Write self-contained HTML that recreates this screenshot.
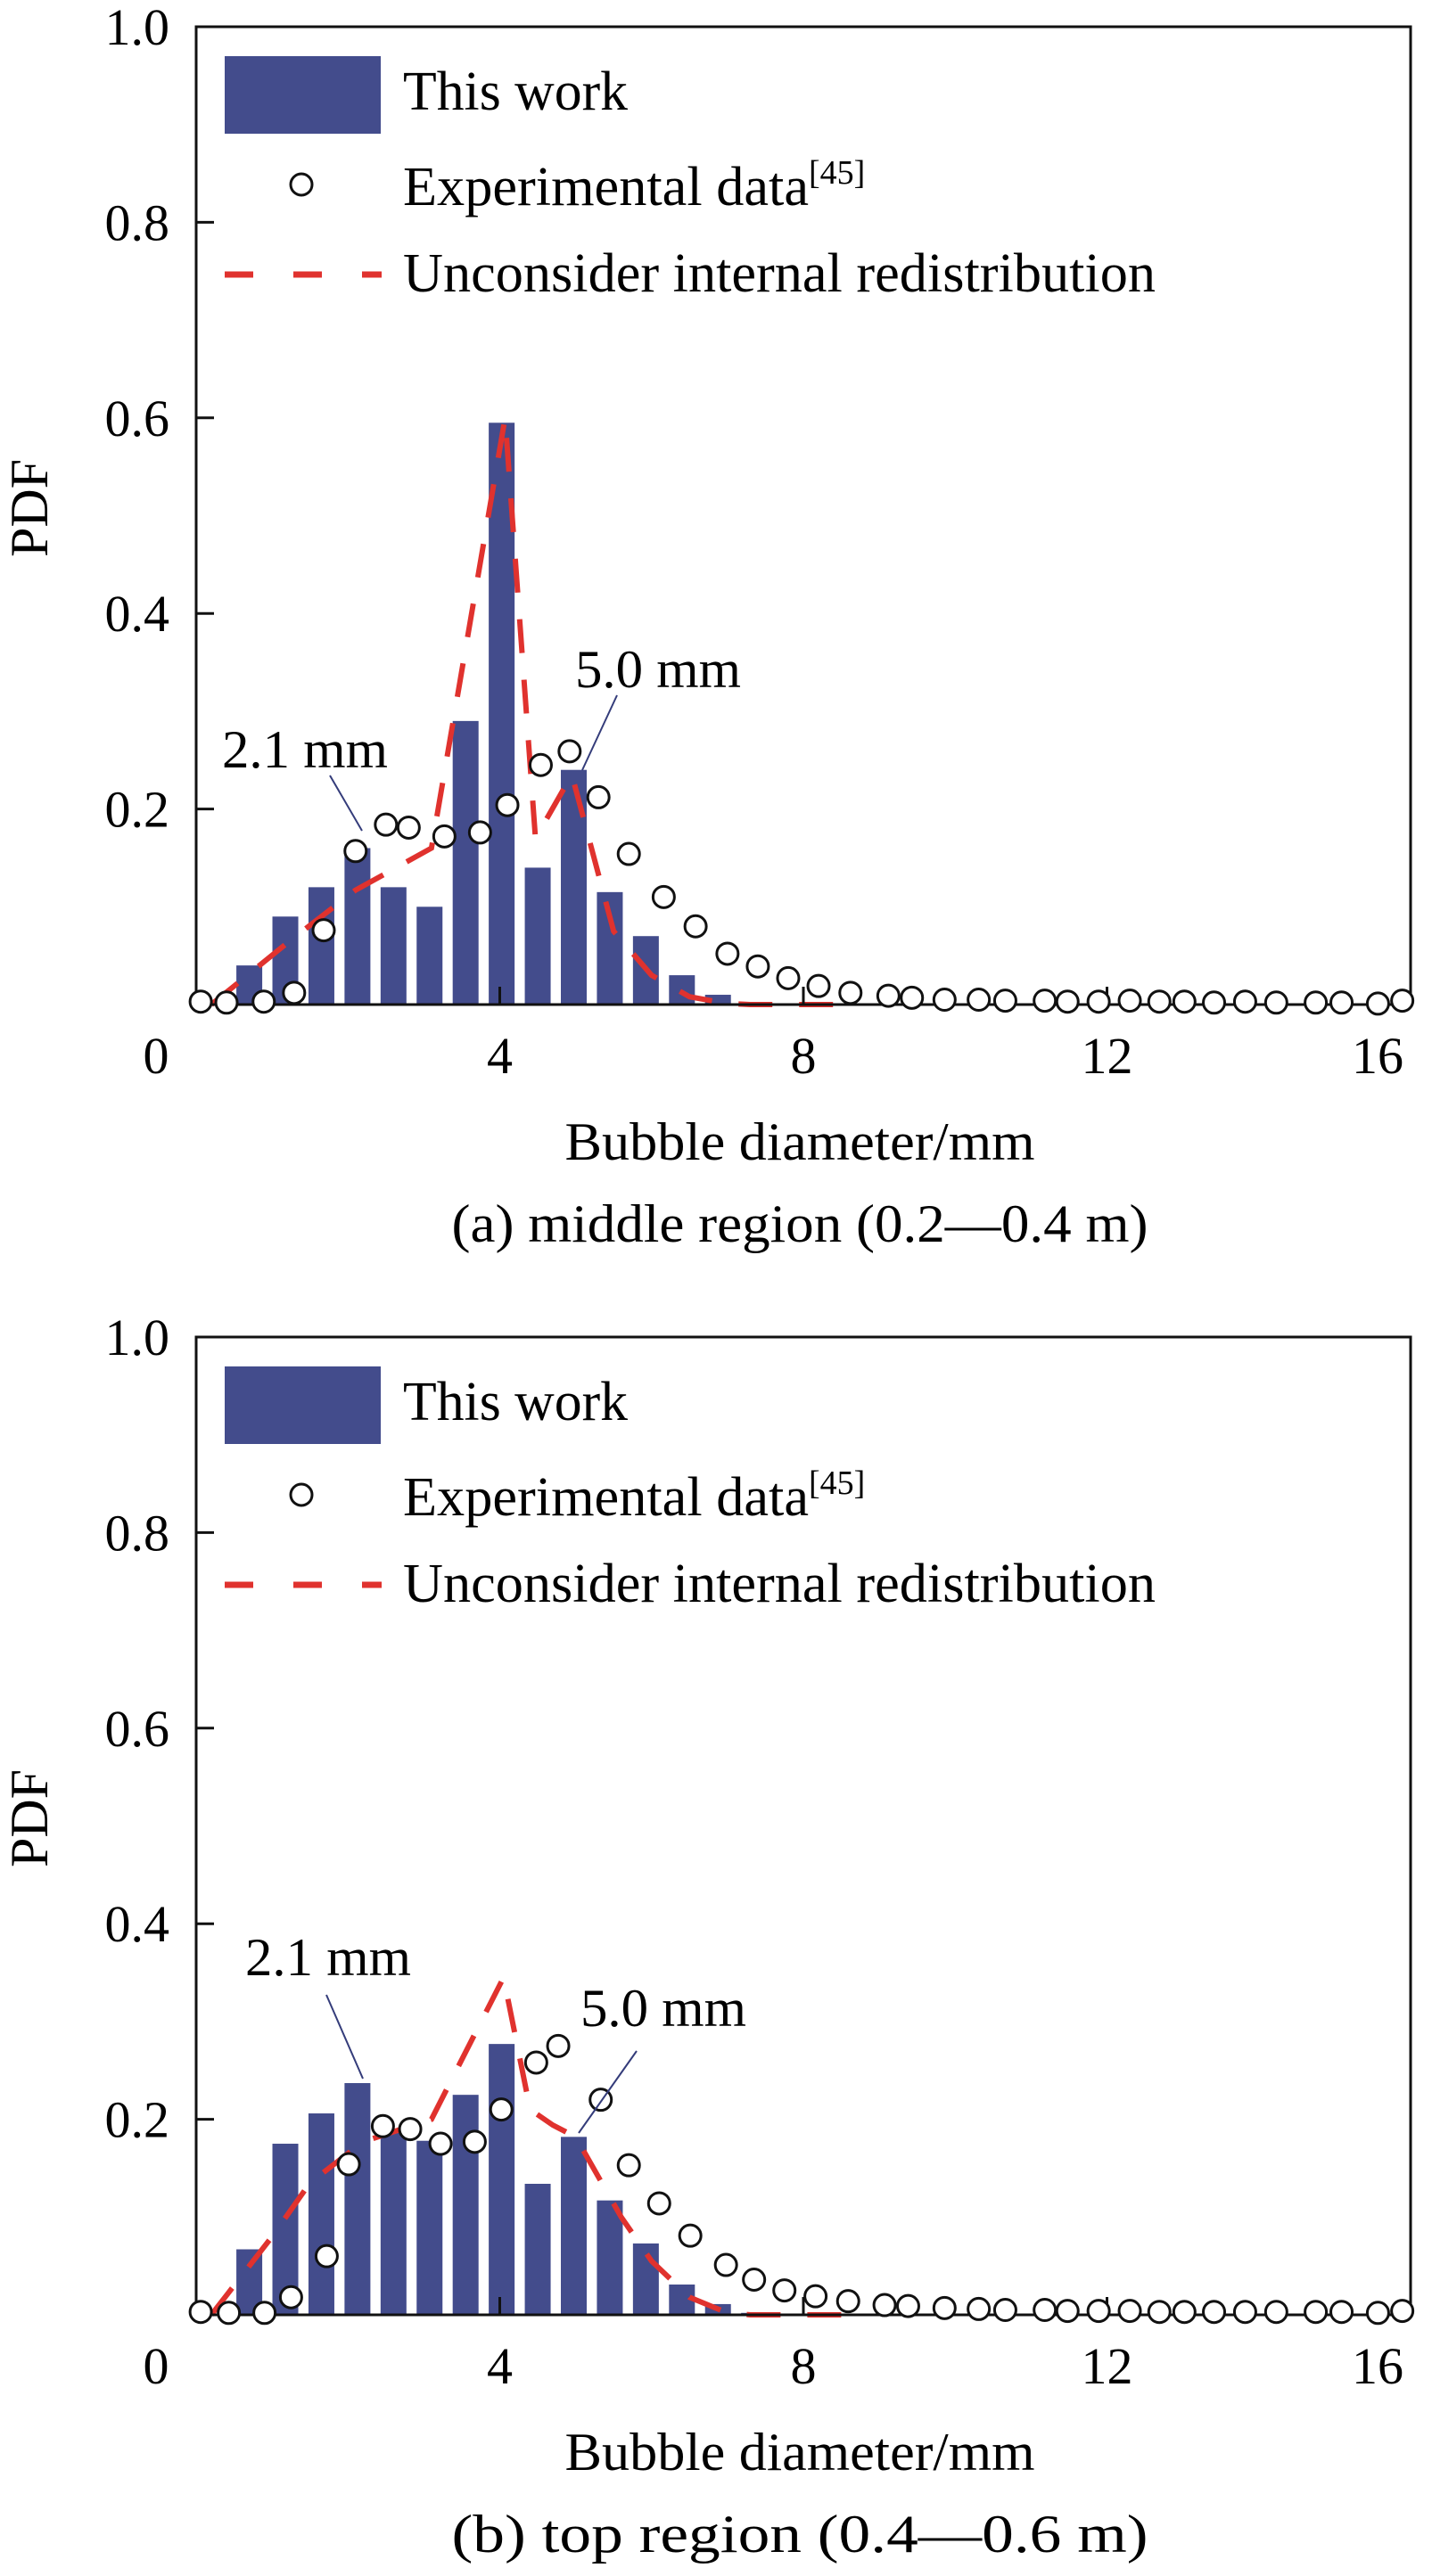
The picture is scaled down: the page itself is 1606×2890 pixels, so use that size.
<!DOCTYPE html>
<html><head><meta charset="utf-8"><style>
html,body{margin:0;padding:0;background:#fff;}
svg{display:block;font-family:"Liberation Serif",serif;}
</style></head><body>
<svg id="fig" width="1606" height="2890" viewBox="0 0 1606 2890" xmlns="http://www.w3.org/2000/svg"></svg>
<script>
// ---- data ----
const barX = [0.70,1.175,1.65,2.125,2.60,3.075,3.55,4.025,4.50,4.975,5.45,5.925,6.40,6.875,7.35];
const barsA = [0.04,0.09,0.12,0.16,0.12,0.10,0.29,0.595,0.14,0.24,0.115,0.07,0.03,0.01,0.002];
const barsB = [0.067,0.175,0.206,0.237,0.19,0.178,0.225,0.277,0.134,0.182,0.117,0.073,0.031,0.011,0.002];
const expXA = [0.06,0.40,0.89,1.29,1.68,2.10,2.50,2.80,3.27,3.74,4.10,4.54,4.92,5.30,5.70,6.16,6.58,7.00,7.40,7.80,8.20,8.62,9.12,9.43,9.86,10.31,10.66,11.18,11.48,11.89,12.30,12.69,13.02,13.41,13.82,14.23,14.75,15.09,15.57,15.89];
const expYA = [0.003,0.002,0.003,0.012,0.076,0.157,0.184,0.181,0.172,0.176,0.204,0.245,0.259,0.212,0.154,0.110,0.080,0.052,0.039,0.027,0.019,0.012,0.009,0.007,0.005,0.005,0.004,0.004,0.003,0.003,0.004,0.003,0.003,0.002,0.003,0.002,0.002,0.002,0.001,0.004];
const expXB = [0.06,0.43,0.90,1.25,1.72,2.01,2.46,2.82,3.22,3.67,4.02,4.48,4.77,5.33,5.70,6.10,6.51,6.98,7.35,7.75,8.16,8.59,9.07,9.38,9.86,10.31,10.66,11.18,11.48,11.89,12.30,12.69,13.02,13.41,13.82,14.23,14.75,15.09,15.57,15.89];
const expYB = [0.003,0.002,0.002,0.018,0.060,0.154,0.193,0.190,0.175,0.177,0.210,0.258,0.275,0.220,0.153,0.114,0.081,0.051,0.036,0.025,0.019,0.014,0.010,0.009,0.007,0.006,0.005,0.005,0.004,0.004,0.004,0.003,0.003,0.003,0.003,0.003,0.003,0.003,0.002,0.004];
const lineXA = [0.2,1.2,2.1,3.1,4.07,4.47,4.95,5.5,6.0,6.5,7.0,7.3,8.6];
const lineYA = [0,0.063,0.117,0.16,0.6,0.17,0.235,0.075,0.03,0.008,0.001,0,0];
const lineXB = [0.2,1.0,1.5,2.2,3.1,4.05,4.4,4.7,5.0,5.6,6.0,6.5,7.0,7.3,8.6];
const lineYB = [0,0.08,0.135,0.177,0.2,0.345,0.21,0.194,0.182,0.1,0.055,0.018,0.002,0,0];
const yTicks = [0,0.2,0.4,0.6,0.8,1.0];
const yTickLabels = ["","0.2","0.4","0.6","0.8","1.0"];
const xTicks = [0,4,8,12,16];
const xTickLabels = ["0","4","8","12","16"];

const NS = "http://www.w3.org/2000/svg";
const svg = document.getElementById("fig");
function mk(tag, attrs, parent){
  const e = document.createElementNS(NS, tag);
  for (const k in attrs) e.setAttribute(k, attrs[k]);
  (parent||svg).appendChild(e);
  return e;
}
const L = 220, R = 1582, H = 1097;
function panel(top, bars, ex, ey, lx, ly, ann, caption, tag){
  const bottom = top + H;
  const g = mk("g", {});
  
  
  const xs = v => L + v * (R - L) / 16;
  const ys = v => bottom - v * H;
  bars.forEach((v, i) => {
    const r = mk("rect", {x: xs(barX[i]) - 14.5, y: ys(v), width: 29, height: bottom - ys(v), fill: "#434c8c"}, g);
    
    
  });
  const pts = lx.map((x, i) => xs(x) + "," + ys(ly[i])).join(" ");
  const pl = mk("polyline", {points: pts, fill: "none", stroke: "#e0322e", "stroke-width": 6, "stroke-dasharray": "38 30"}, g);
  
  
  const fr = mk("rect", {x: L, y: top, width: R - L, height: H, fill: "none", stroke: "#111", "stroke-width": 3}, g);
  
  
  yTicks.forEach((v, i) => {
    mk("line", {x1: L, x2: L + 20, y1: ys(v), y2: ys(v), stroke: "#111", "stroke-width": 3}, g);
    if (yTickLabels[i]) {
      const t = mk("text", {x: 190, y: ys(v) + 20, "text-anchor": "end", "font-size": 58}, g);
      t.textContent = yTickLabels[i];
      
      
    }
  });
  const y0 = mk("text", {x: 175, y: bottom + 77, "text-anchor": "middle", "font-size": 58}, g);
  y0.textContent = "0";
  xTicks.forEach((v, i) => {
    if (i > 0 && i < xTicks.length - 1) mk("line", {x1: xs(v), x2: xs(v), y1: bottom, y2: bottom - 20, stroke: "#111", "stroke-width": 3}, g);
    if (i > 0) {
      const t = mk("text", {x: i === xTicks.length - 1 ? 1545 : xs(v), y: bottom + 77, "text-anchor": "middle", "font-size": 58}, g);
      t.textContent = xTickLabels[i];
      
      
    }
  });
  ex.forEach((x, i) => {
    const c = mk("circle", {cx: xs(x), cy: ys(ey[i]), r: 12, fill: "#fff", stroke: "#111", "stroke-width": 3}, g);
    
    
  });
  ann.forEach(a => {
    mk("line", {x1: a.l[0], y1: a.l[1], x2: a.l[2], y2: a.l[3], stroke: "#343c7a", "stroke-width": 2}, g);
    const t = mk("text", {x: a.x, y: a.y, "font-size": 60, textLength: 186, lengthAdjust: "spacingAndGlyphs"}, g);
    t.textContent = a.t;
    
    
  });
  const lg = mk("g", {}, g);
  
  
  mk("rect", {x: 252, y: top + 33, width: 175, height: 87, fill: "#434c8c"}, lg);
  const t1 = mk("text", {x: 452, y: top + 93, "font-size": 62, textLength: 252, lengthAdjust: "spacingAndGlyphs"}, lg);
  t1.textContent = "This work";
  mk("circle", {cx: 338, cy: top + 177, r: 12, fill: "#fff", stroke: "#111", "stroke-width": 3}, lg);
  const t2 = mk("text", {x: 452, y: top + 200, "font-size": 62}, lg);
  const s1 = mk("tspan", {textLength: 455, lengthAdjust: "spacingAndGlyphs"}, t2);
  s1.textContent = "Experimental data";
  const s2 = mk("tspan", {"font-size": 38, dy: -24}, t2);
  s2.textContent = "[45]";
  mk("line", {x1: 252, x2: 428, y1: top + 278, y2: top + 278, stroke: "#e0322e", "stroke-width": 7, "stroke-dasharray": "32 45"}, lg);
  const t3 = mk("text", {x: 452, y: top + 297, "font-size": 62, textLength: 844, lengthAdjust: "spacingAndGlyphs"}, lg);
  t3.textContent = "Unconsider internal redistribution";
  const yl = mk("text", {x: 0, y: 0, "font-size": 60, "text-anchor": "middle", transform: "translate(53," + (top + 540) + ") rotate(-90)"}, g);
  yl.textContent = "PDF";
  
  
  const xl = mk("text", {x: 897, y: bottom + 174, "font-size": 60, "text-anchor": "middle", textLength: 527, lengthAdjust: "spacingAndGlyphs"}, g);
  xl.textContent = "Bubble diameter/mm";
  
  
  const cp = mk("text", {x: 897, y: bottom + 266, "font-size": 60, "text-anchor": "middle", textLength: 781, lengthAdjust: "spacingAndGlyphs"}, g);
  cp.textContent = caption;
  
  
}
panel(30, barsA, expXA, expYA, lineXA, lineYA,
  [{t: "2.1 mm", x: 249, y: 861, l: [370, 870, 406, 932]},
   {t: "5.0 mm", x: 645, y: 771, l: [692, 780, 653, 864]}],
  "(a) middle region (0.2—0.4 m)", "a");
panel(1500, barsB, expXB, expYB, lineXB, lineYB,
  [{t: "2.1 mm", x: 275, y: 2216, l: [366, 2238, 407, 2332]},
   {t: "5.0 mm", x: 651, y: 2273, l: [714, 2301, 649, 2393]}],
  "(b) top region (0.4—0.6 m)", "b");
</script>
</body></html>
